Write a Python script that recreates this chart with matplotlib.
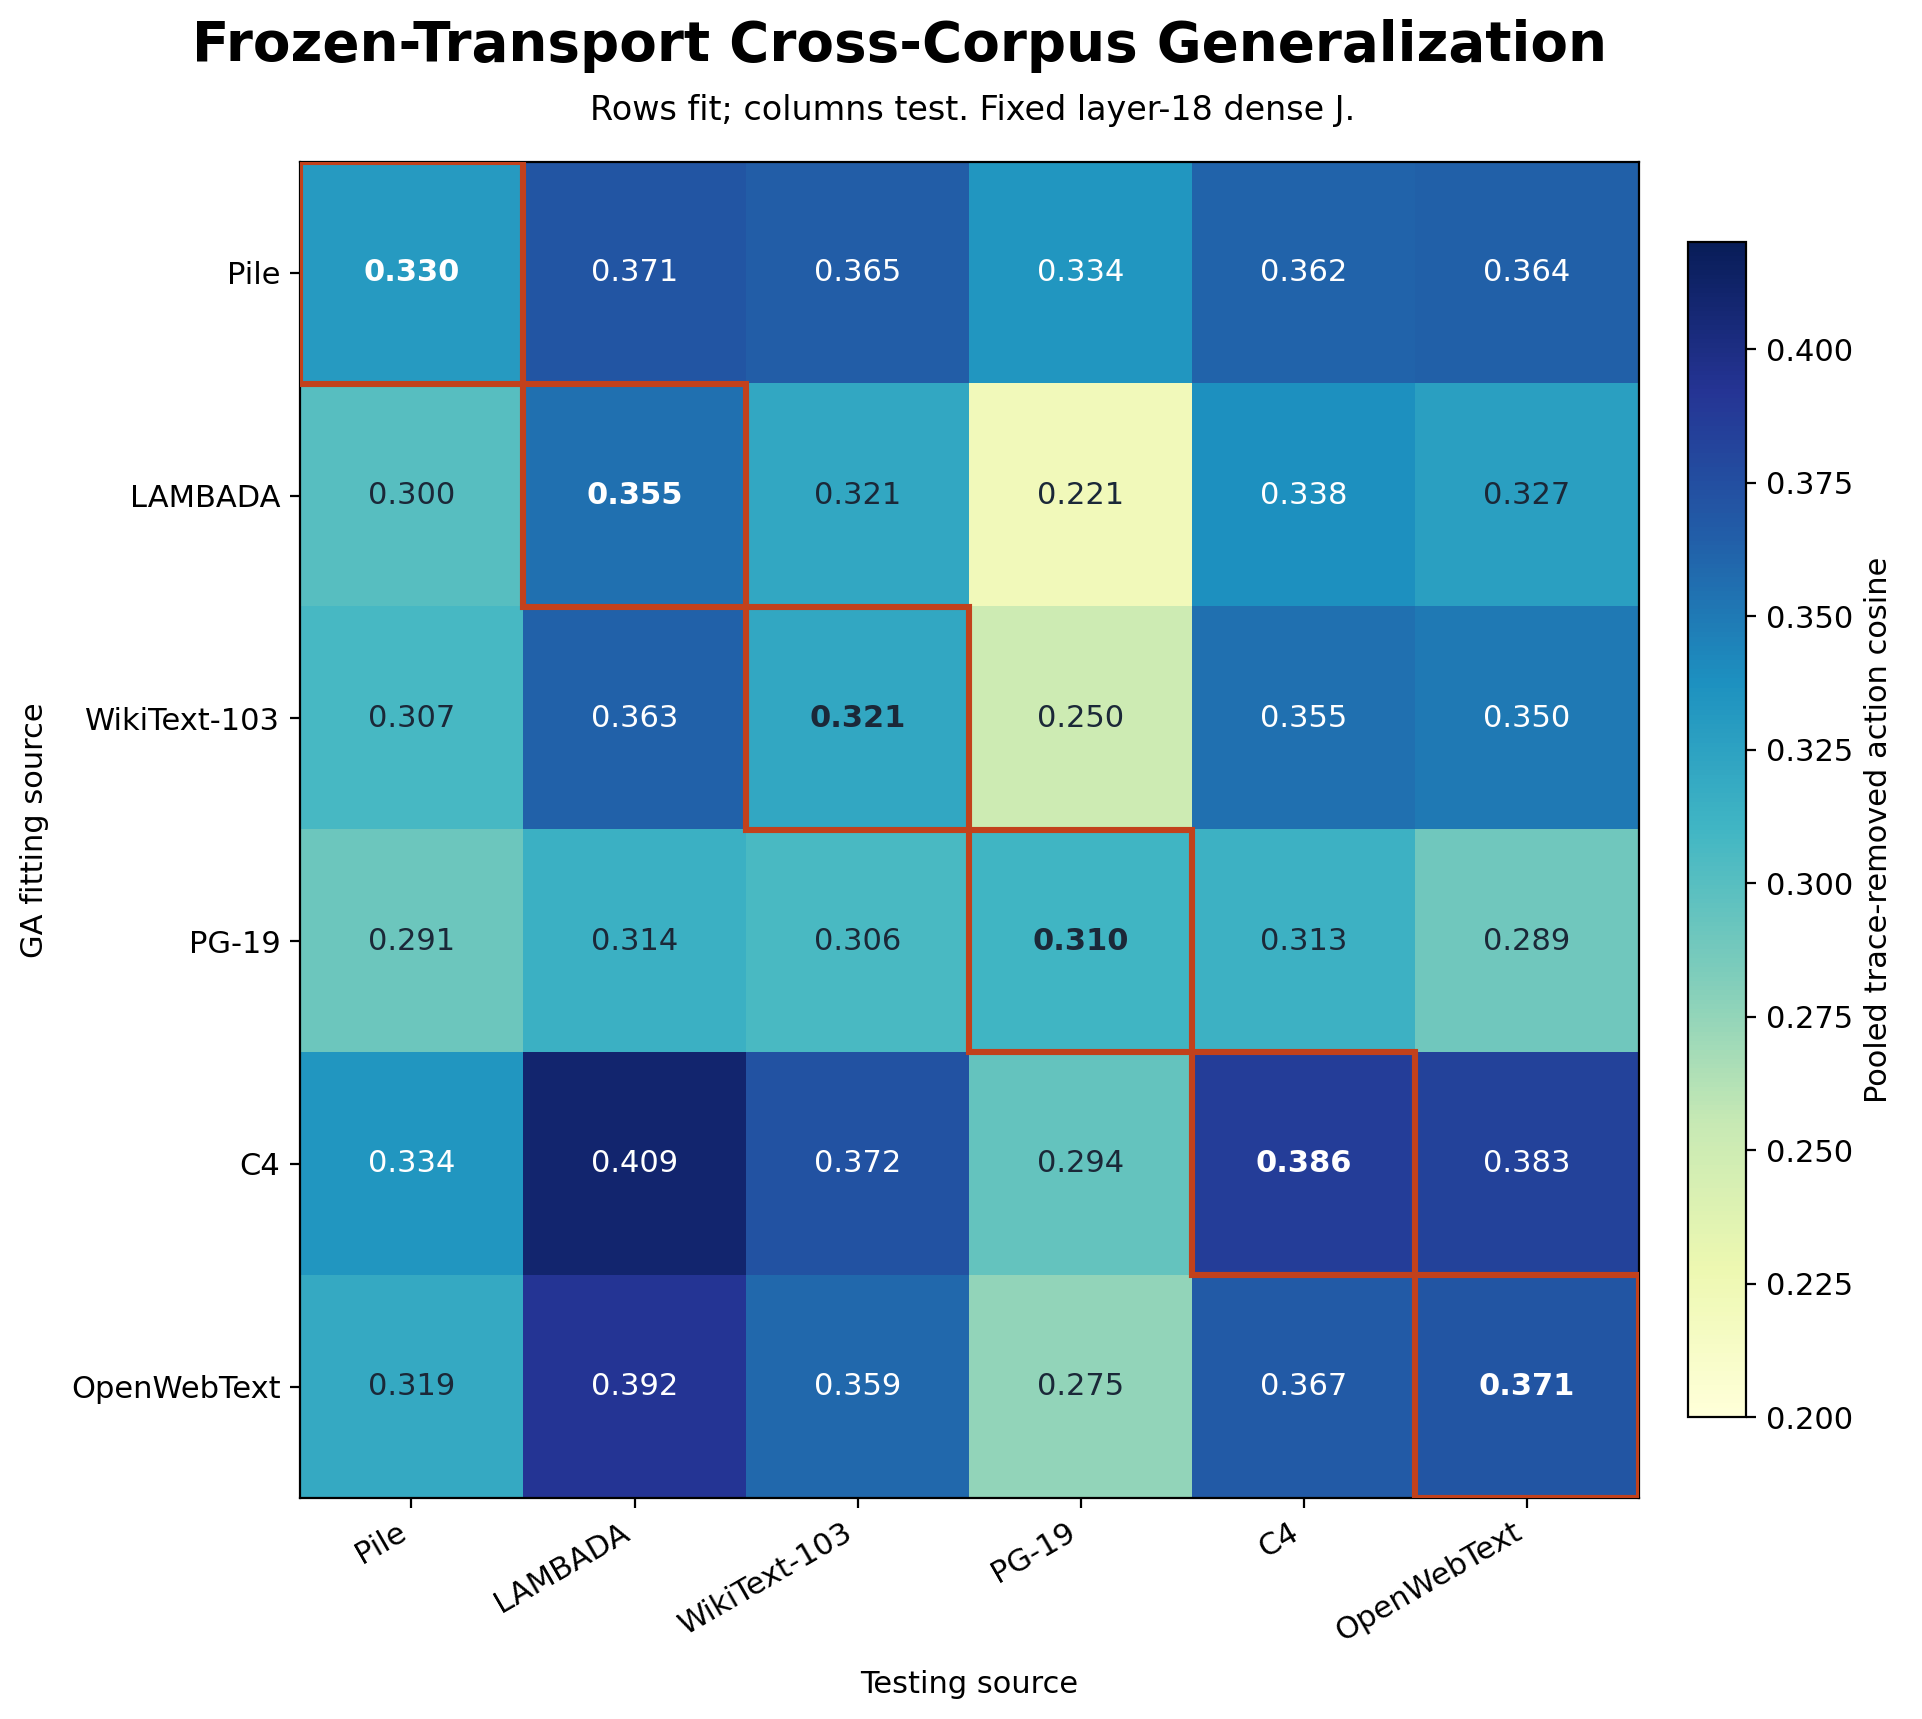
import numpy as np
import matplotlib.pyplot as plt
from matplotlib.patches import Rectangle

# corpora (rows = fitting source, columns = testing source)
fit_sources = ['Pile', 'LAMBADA', 'WikiText-103', 'PG-19', 'C4', 'OpenWebText']
test_sources = ['Pile', 'LAMBADA', 'WikiText-103', 'PG-19', 'C4', 'OpenWebText']

row_pile = [0.330, 0.371, 0.365, 0.334, 0.362, 0.364]
row_lambada = [0.300, 0.355, 0.321, 0.221, 0.338, 0.327]
row_wikitext = [0.307, 0.363, 0.321, 0.250, 0.355, 0.350]
row_pg19 = [0.291, 0.314, 0.306, 0.310, 0.313, 0.289]
row_c4 = [0.334, 0.409, 0.372, 0.294, 0.386, 0.383]
row_owt = [0.319, 0.392, 0.359, 0.275, 0.367, 0.371]

VMIN, VMAX = 0.20, 0.42
EDGE = '#c2411c'

M = np.array([row_pile, row_lambada, row_wikitext, row_pg19, row_c4, row_owt])

fig = plt.figure(figsize=(9.61, 8.595), dpi=200)
ax = fig.add_axes([0.156, 0.1286, 0.6965, 0.7774])
cax = fig.add_axes([0.8785, 0.1756, 0.0300, 0.6834])

im = ax.imshow(M, cmap='YlGnBu', vmin=VMIN, vmax=VMAX, aspect='auto')

n_rows, n_cols = M.shape
for i in range(n_rows):
    for j in range(n_cols):
        v = M[i, j]
        color = 'white' if v > 0.328 else '#1b2838'
        weight = 'bold' if i == j else 'normal'
        ax.text(j, i, f'{v:.3f}', ha='center', va='center',
                fontsize=11, color=color, fontweight=weight)
    # highlight diagonal cell
    ax.add_patch(Rectangle((i - 0.5, i - 0.5), 1, 1, fill=False,
                           edgecolor=EDGE, linewidth=2.2, zorder=5))

ax.set_xticks(range(n_cols))
ax.set_xticklabels(test_sources, rotation=30, ha='right', fontsize=11)
ax.set_yticks(range(n_rows))
ax.set_yticklabels(fit_sources, fontsize=11)
ax.set_xlabel('Testing source', fontsize=11, labelpad=8)
ax.set_ylabel('GA fitting source', fontsize=11, labelpad=8)

cb = fig.colorbar(im, cax=cax)
cb.set_label('Pooled trace-removed action cosine', fontsize=11)
cb.ax.tick_params(labelsize=11)

fig.text(0.468, 0.973, 'Frozen-Transport Cross-Corpus Generalization',
         ha='center', va='center', fontsize=19.7, fontweight='bold')
fig.text(0.506, 0.936, 'Rows fit; columns test. Fixed layer-18 dense J.',
         ha='center', va='center', fontsize=12)

fig.savefig('out.png', dpi=200, facecolor='white')
